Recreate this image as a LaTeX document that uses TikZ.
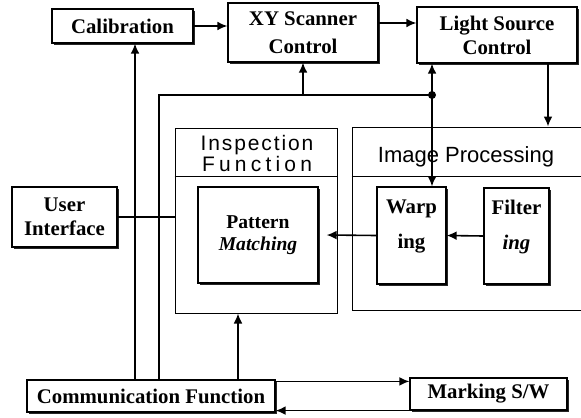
\documentclass[tikz,border=0pt]{standalone}
\usepackage{fontspec}
\setmainfont{Liberation Serif}
\setsansfont{Liberation Sans}
\usepackage{tikz}
\usetikzlibrary{calc}
\usetikzlibrary{shadows}
\usetikzlibrary{arrows.meta}
\tikzset{>=latex}
\tikzset{
  block/.style={draw, fill=white, line width=0.6pt, align=center, inner sep=2pt,
    font=\fontsize{10.4}{12}\selectfont\bfseries,
    drop shadow={shadow xshift=1.2pt, shadow yshift=-1.2pt, fill=black!85, opacity=1}},
  group/.style={draw, line width=0.5pt},
  boxsize/.style 2 args={minimum width=#1*0.5pt, minimum height=#2*0.5pt},
  flow/.style={-{Latex[length=5pt,width=4.4pt]}, line width=0.8pt},
  wire/.style={line width=0.8pt},
  heading/.style={font=\fontsize{10.5}{9}\selectfont\sffamily, align=center}
}

\begin{document}
\begin{tikzpicture}[x=0.5pt, y=-0.5pt]
    \useasboundingbox (0,0) rectangle (581,417);
    \clip (0,0) rectangle (581,417);

    % control blocks
    \node[block, boxsize={141}{34}] (calib) at (122.5,26) {Calibration};
    \node[block, boxsize={150}{59}, font=\fontsize{10.4}{14}\selectfont\bfseries] (xyscan) at (303,32.5) {XY Scanner\\Control};
    \node[block, boxsize={160}{56}] (light) at (497,35) {Light Source\\Control};
    \node[block, boxsize={105}{60}] (user) at (64.5,217) {User\\Interface};
    \node[block, boxsize={248}{32}] (comm) at (151,396) {Communication Function};
    \node[block, boxsize={157}{32}] (marking) at (488.5,394) {Marking S/W};

    % function groups
    \node[group, boxsize={162}{185}] (insp) at (256,220.5) {};
    \node[group, boxsize={248}{183}] (imgproc) at (476,218.5) {};
    \draw[group] ([yshift=-24.5pt]insp.north west) -- ([yshift=-24.5pt]insp.north east);
    \draw[group] ([yshift=-25pt]imgproc.north west) -- ([yshift=-25pt]imgproc.north east);
    \node[heading] (insptitle) at (257,153.5) {{\addfontfeature{LetterSpace=9}Inspection}\\{\addfontfeature{LetterSpace=20}Function}};
    \node[heading, font=\fontsize{11}{9}\selectfont\sffamily] (imgtitle) at (466,156.5) {Image Processing};

    \node[block, boxsize={120}{96}, font=\fontsize{9.8}{11}\selectfont\bfseries] (pattern) at (258,235) {Pattern\\\textit{Matching}};
    \node[block, boxsize={69}{97}, font=\fontsize{10.4}{17.5}\selectfont\bfseries, text depth=11pt] (warping) at (411.5,235.5) {Warp\\ing};
    \node[block, boxsize={65}{96}, font=\fontsize{10.4}{17.5}\selectfont\bfseries, text depth=11pt] (filtering) at (516.5,236) {Filter\\\textit{ing}};

    % bus taps on the communication block
    \coordinate (calup) at (135,380);
    \coordinate (busup) at (159,380);
    \coordinate (inspup) at (238,380);
    \coordinate (tap) at (432,95);

    \draw[flow] (calib.east) -- (calib.east -| xyscan.west);
    \draw[flow] ([yshift=4.75pt]xyscan.east) -- ([yshift=4.75pt]xyscan.east -| light.west);
    \draw[flow] (calup) -- (calup |- calib.south);
    \draw[wire] (busup) |- (tap);
    \draw[flow] (xyscan.south |- tap) -- (xyscan.south);
    \fill (tap) circle[radius=2pt];
    \draw[flow] (tap) -- (tap |- light.south);
    \draw[flow] (tap) -- (tap |- warping.north);
    \draw[flow] ([xshift=25.5pt]light.south) -- ([xshift=25.5pt]light.south |- imgproc.north);
    \draw[flow] (filtering.west) -- (warping.east);
    \draw[flow] (warping.west) -- ([xshift=4pt]pattern.east);
    \draw[wire] (user.east) -- (user.east -| insp.west);
    \draw[flow] (inspup) -- (inspup |- insp.south);
    \draw[flow] ([yshift=-1pt]comm.north east) -- ([yshift=-1pt]comm.north east -| marking.west);
    \draw[flow] (marking.south west) -- (marking.south west -| comm.east);
\end{tikzpicture}
\end{document}
